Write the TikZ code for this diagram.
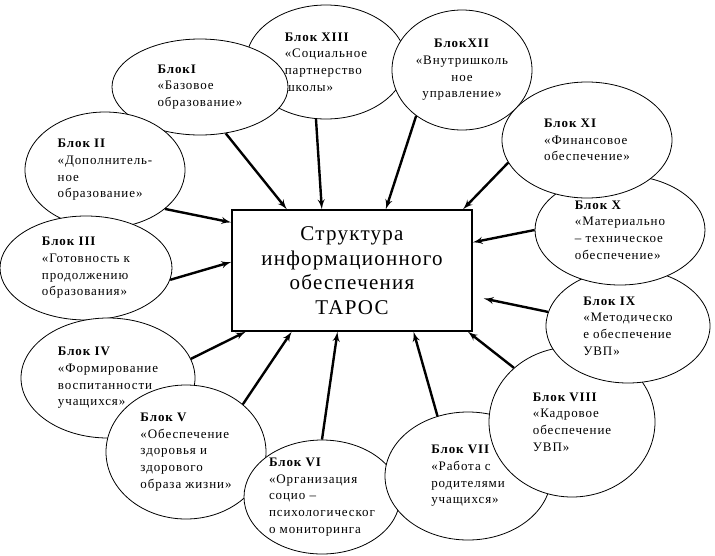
\documentclass[tikz,border=0pt]{standalone}
\usepackage{fontspec}
\setmainfont{Liberation Serif}
\newfontfamily\blokfont[LetterSpace=7]{Liberation Serif}
\newfontfamily\tsentrfont[LetterSpace=6]{Liberation Serif}
\usetikzlibrary{arrows, calc, shapes.geometric}
\tikzstyle{blok}= [draw, ellipse, fill=white, line width=0.8pt, inner sep=-40pt, align=left,
  font=\blokfont\fontsize{13}{16.7}\selectfont]
\tikzstyle{Tsentr}= [draw, line width=1.3pt, minimum width=240pt, minimum height=121pt,
  align=center, font=\tsentrfont\fontsize{21}{24.5}\selectfont]
\tikzstyle{strelka}= [->, line width=2.4pt]

\begin{document}
\begin{tikzpicture}[x=1pt, y=-1pt, >=latex']
    \useasboundingbox (0,0) rectangle (715,555);

    % central block
    \node [Tsentr] (tsentr) at (352,270.5) {Структура\\информационного\\обеспечения\\ТАРОС};

    % blocks round the centre
    \node [blok, minimum width=160pt, minimum height=114pt] (b13) at (326,62)
    {\textbf{Блок XIII}\\«Социальное\\партнерство\\школы»};
    \node [blok, minimum width=176pt, minimum height=96pt] (b1) at (200,87)
    {\textbf{БлокI}\\«Базовое\\образование»};
    \node [blok, minimum width=160pt, minimum height=116pt] (b2) at (105,170)
    {\textbf{Блок II}\\«Дополнитель-\\ное\\образование»};
    \node [blok, minimum width=172pt, minimum height=104pt] (b3) at (86,268)
    {\textbf{Блок III}\\«Готовность к\\продолжению\\образования»};
    \node [blok, minimum width=174pt, minimum height=120pt] (b4) at (108,378)
    {\textbf{Блок IV}\\«Формирование\\воспитанности\\учащихся»};
    \node [blok, minimum width=160pt, minimum height=134pt] (b5) at (186,452)
    {\textbf{Блок V}\\«Обеспечение\\здоровья и\\здорового\\образа жизни»};
    \node [blok, minimum width=156pt, minimum height=114pt] (b6) at (322,497)
    {\textbf{Блок VI}\\«Организация\\социо –\\психологическог\\о мониторинга};
    \node [blok, minimum width=166pt, minimum height=128pt] (b7) at (468,476)
    {\textbf{Блок VII}\\«Работа с\\родителями\\учащихся»};
    \node [blok, minimum width=166pt, minimum height=150pt] (b8) at (572,422)
    {\textbf{Блок VIII}\\«Кадровое\\обеспечение\\УВП»};
    \node [blok, minimum width=164pt, minimum height=114pt] (b9) at (628,326)
    {\textbf{Блок IX}\\«Методическо\\е обеспечение\\УВП»};
    \node [blok, minimum width=170pt, minimum height=110pt] (b10) at (620,230)
    {\textbf{Блок X}\\«Материально\\– техническое\\обеспечение»};
    \node [blok, minimum width=170pt, minimum height=116pt] (b11) at (587,140)
    {\textbf{Блок XI}\\«Финансовое\\обеспечение»};
    \node [blok, minimum width=140pt, minimum height=120pt, align=center] (b12) at (462,70)
    {\textbf{БлокXII}\\«Внутришколь\\ное\\управление»};

    % arrows into the top side
    \draw[strelka] (b1.-61) -- ($(tsentr.north west)!0.23!(tsentr.north east)$);
    \draw[strelka] (b13.-100) -- ($(tsentr.north west)!0.375!(tsentr.north east)$);
    \draw[strelka] (b12.-135) -- ($(tsentr.north west)!0.64!(tsentr.north east)$);
    \draw[strelka] (b11.-164) -- ($(tsentr.north west)!0.96!(tsentr.north east)$);

    % arrows into the right side
    \draw[strelka] (b10.180) -- ($(tsentr.north east)!0.27!(tsentr.south east)$);
    \draw[strelka] (b9.170) -- ($(tsentr.east)+(11,28)$);

    % arrows into the bottom side
    \draw[strelka] (b8.137) -- ($(tsentr.south west)!0.98!(tsentr.south east)$);
    \draw[strelka] (b7.117) -- ($(tsentr.south west)!0.755!(tsentr.south east)$);
    \draw[strelka] (b6.90) -- ($(tsentr.south west)!0.44!(tsentr.south east)$);
    \draw[strelka] (b5.40) -- ($(tsentr.south west)!0.25!(tsentr.south east)$);
    \draw[strelka] (b4.13) -- ($(tsentr.south west)!0.06!(tsentr.south east)$);

    % arrows into the left side
    \draw[strelka] (b3.-8) -- ($(tsentr.north west)!0.43!(tsentr.south west)$);
    \draw[strelka] (b2.-33) -- ($(tsentr.north west)!0.107!(tsentr.south west)$);

\end{tikzpicture}
\end{document}
